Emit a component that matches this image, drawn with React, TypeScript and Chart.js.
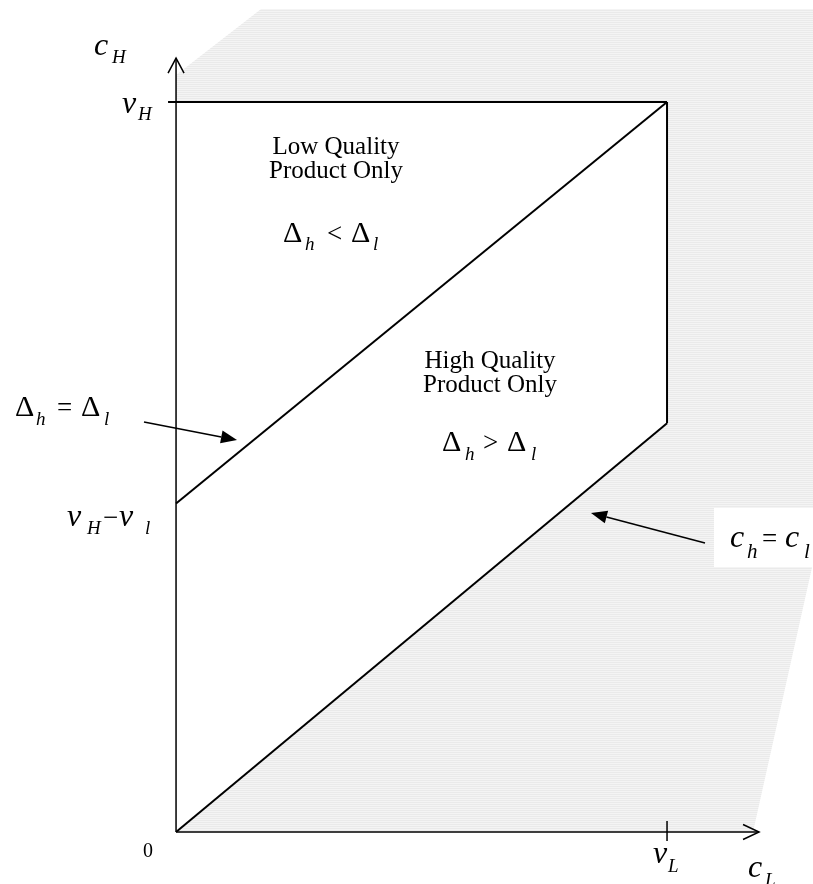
import React, { useEffect, useRef } from 'react';
import { Chart, registerables } from 'chart.js';

Chart.register(...registerables);

// ---------- values (data units: v_H = 1) ----------
const V_H = 1.0;
const V_L = 0.555;
const V_H_MINUS_V_L = 0.45;
const DIAG_END = 0.56; // height of c_h = c_l boundary at c_L = v_L

const topEdgeX = [0, V_L];
const topEdgeY = [V_H, V_H];
const rightEdgeX = [V_L, V_L];
const rightEdgeY = [V_H, DIAG_END];
const upperBoundaryX = [0, V_L]; // Δh = Δl
const upperBoundaryY = [V_H_MINUS_V_L, V_H];
const lowerBoundaryX = [0, V_L]; // c_h = c_l
const lowerBoundaryY = [0, DIAG_END];
const feasibleRegionX = [0, 0, V_L, V_L];
const feasibleRegionY = [0, V_H, V_H, DIAG_END];
const shadedRegionX = [0, 0.0961, 0.72, 0.72, 0.6522, 0];
const shadedRegionY = [1.037, 1.1274, 1.1274, 0.3685, 0, 0];

const AXIS_X_END = 0.659;
const AXIS_Y_END = 1.06;

const X_MIN = -0.199;
const X_MAX = 0.72;
const Y_MIN = -0.0712;
const Y_MAX = 1.1397;

const FONT = '"Liberation Serif", "Times New Roman", serif';

const pts = (xs: number[], ys: number[]) => xs.map((x, i) => ({ x, y: ys[i] }));

type Piece = [string, 'v' | 's' | 'D' | 'o', number];

function drawMath(
  ctx: CanvasRenderingContext2D,
  x: number,
  y: number,
  pieces: Piece[],
  drop = 8,
  vSize = 32,
  sSize = 19
) {
  ctx.save();
  ctx.fillStyle = '#000';
  ctx.textBaseline = 'alphabetic';
  ctx.textAlign = 'left';
  for (const [t, k, off] of pieces) {
    let yy = y;
    if (k === 'v') ctx.font = `italic ${vSize}px ${FONT}`;
    else if (k === 's') {
      ctx.font = `italic ${sSize}px ${FONT}`;
      yy = y + drop;
    } else if (k === 'D') ctx.font = `30px ${FONT}`;
    else ctx.font = `27px ${FONT}`;
    ctx.fillText(t, x + off, yy);
  }
  ctx.restore();
}

function drawArrow(ctx: CanvasRenderingContext2D, x1: number, y1: number, x2: number, y2: number) {
  const a = Math.atan2(y2 - y1, x2 - x1);
  const L = 16;
  const W = 6.5;
  const bx = x2 - L * Math.cos(a);
  const by = y2 - L * Math.sin(a);
  ctx.beginPath();
  ctx.moveTo(x1, y1);
  ctx.lineTo(bx, by);
  ctx.stroke();
  ctx.beginPath();
  ctx.moveTo(x2, y2);
  ctx.lineTo(bx + W * Math.sin(a), by - W * Math.cos(a));
  ctx.lineTo(bx - W * Math.sin(a), by + W * Math.cos(a));
  ctx.closePath();
  ctx.fill();
}

const annotationPlugin = {
  id: 'diagramAnnotations',
  afterDatasetsDraw(chart: any) {
    const ctx: CanvasRenderingContext2D = chart.ctx;
    const xs = chart.scales.x;
    const ys = chart.scales.y;
    const px = (v: number) => xs.getPixelForValue(v);
    const py = (v: number) => ys.getPixelForValue(v);
    const x0 = px(0);
    const y0 = py(0);
    const xEnd = px(AXIS_X_END);
    const yEnd = py(AXIS_Y_END);

    ctx.save();
    // white box behind the c_h = c_l label
    ctx.fillStyle = '#fff';
    ctx.fillRect(714, 508, 100, 59);

    ctx.strokeStyle = '#000';
    ctx.fillStyle = '#000';
    ctx.lineWidth = 1.5;
    ctx.lineCap = 'butt';

    // axes
    ctx.beginPath();
    ctx.moveTo(x0, y0);
    ctx.lineTo(x0, yEnd);
    ctx.moveTo(x0, y0);
    ctx.lineTo(xEnd, y0);
    ctx.stroke();
    // open arrow heads
    ctx.beginPath();
    ctx.moveTo(x0 - 8, yEnd + 15);
    ctx.lineTo(x0, yEnd);
    ctx.lineTo(x0 + 8, yEnd + 15);
    ctx.moveTo(xEnd - 16, y0 - 7.5);
    ctx.lineTo(xEnd, y0);
    ctx.lineTo(xEnd - 16, y0 + 7.5);
    ctx.stroke();

    // ticks
    ctx.lineWidth = 2;
    ctx.beginPath();
    ctx.moveTo(x0 - 8, py(V_H));
    ctx.lineTo(x0, py(V_H));
    ctx.stroke();
    ctx.lineWidth = 1.5;
    ctx.beginPath();
    ctx.moveTo(px(V_L), y0 - 11);
    ctx.lineTo(px(V_L), y0 + 9);
    ctx.stroke();

    // arrows
    ctx.lineWidth = 1.5;
    drawArrow(ctx, 144, 422, 237, 440);
    drawArrow(ctx, 705, 543, 591, 513);

    // region text
    ctx.font = `25px ${FONT}`;
    ctx.textAlign = 'center';
    ctx.textBaseline = 'alphabetic';
    ctx.fillText('Low Quality', 336, 154);
    ctx.fillText('Product Only', 336, 178);
    ctx.fillText('High Quality', 490, 368);
    ctx.fillText('Product Only', 490, 392);

    ctx.font = `20px ${FONT}`;
    ctx.fillText('0', x0 - 28, y0 + 25);
    ctx.restore();

    // math labels
    drawMath(ctx, x0 - 82, yEnd - 3, [['c', 'v', 0], ['H', 's', 18]], 8);
    drawMath(ctx, x0 - 54, py(V_H) + 11, [['v', 'v', 0], ['H', 's', 16]], 7);
    drawMath(ctx, x0 - 109, py(V_H_MINUS_V_L) + 22, [
      ['v', 'v', 0], ['H', 's', 20], ['\u2212', 'o', 36], ['v', 'v', 52], ['l', 's', 78],
    ], 8);
    drawMath(ctx, 15, 416, [
      ['\u0394', 'D', 0], ['h', 's', 21], ['=', 'o', 42], ['\u0394', 'D', 66], ['l', 's', 89],
    ], 9);
    drawMath(ctx, 283, 242, [
      ['\u0394', 'D', 0], ['h', 's', 22], ['<', 'o', 44], ['\u0394', 'D', 68], ['l', 's', 90],
    ], 8);
    drawMath(ctx, 442, 451, [
      ['\u0394', 'D', 0], ['h', 's', 23], ['>', 'o', 41], ['\u0394', 'D', 65], ['l', 's', 89],
    ], 9);
    drawMath(ctx, 730, 547, [
      ['c', 'v', 0], ['h', 's', 17], ['=', 'o', 32], ['c', 'v', 55], ['l', 's', 74],
    ], 11, 32, 21);
    drawMath(ctx, px(V_L) - 14, y0 + 31, [['v', 'v', 0], ['L', 's', 15]], 9);
    drawMath(ctx, xEnd - 11, y0 + 45, [['c', 'v', 0], ['L', 's', 17]], 9);
  },
};

export default function App() {
  const ref = useRef<HTMLCanvasElement>(null);

  useEffect(() => {
    const canvas = ref.current;
    if (!canvas) return;
    const pc = document.createElement('canvas');
    pc.width = 4;
    pc.height = 2;
    const pctx = pc.getContext('2d')!;
    pctx.fillStyle = '#f4f4f4';
    pctx.fillRect(0, 0, 4, 2);
    pctx.fillStyle = '#eaeaea';
    pctx.fillRect(0, 0, 4, 1);
    const pattern = canvas.getContext('2d')!.createPattern(pc, 'repeat')!;

    const lineDs = (xs: number[], ys: number[]) => ({
      data: pts(xs, ys),
      borderColor: '#000',
      borderWidth: 2,
      fill: false,
      pointRadius: 0,
      order: 1,
    });

    const chart = new Chart(canvas, {
      type: 'line',
      data: {
        datasets: [
          {
            data: pts(shadedRegionX, shadedRegionY),
            borderColor: 'rgba(0,0,0,0)',
            borderWidth: 1,
            backgroundColor: pattern as any,
            fill: 'shape',
            pointRadius: 0,
            order: 3,
          },
          {
            data: pts(feasibleRegionX, feasibleRegionY),
            borderColor: 'rgba(0,0,0,0)',
            borderWidth: 1,
            backgroundColor: '#ffffff',
            fill: 'shape',
            pointRadius: 0,
            order: 2,
          },
          lineDs(topEdgeX, topEdgeY),
          lineDs(rightEdgeX, rightEdgeY),
          lineDs(upperBoundaryX, upperBoundaryY),
          lineDs(lowerBoundaryX, lowerBoundaryY),
        ] as any,
      },
      options: {
        responsive: false,
        animation: false,
        devicePixelRatio: 1,
        events: [],
        layout: { padding: 0, autoPadding: false },
        plugins: {
          legend: { display: false },
          tooltip: { enabled: false },
          title: { display: false },
        },
        scales: {
          x: { type: 'linear', min: X_MIN, max: X_MAX, display: false },
          y: { type: 'linear', min: Y_MIN, max: Y_MAX, display: false },
        },
      } as any,
      plugins: [annotationPlugin],
    });
    return () => chart.destroy();
  }, []);

  return (
    <div style={{ position: 'fixed', left: 0, top: 0, width: 813, height: 884, background: '#fff' }}>
      <canvas ref={ref} width={813} height={884} style={{ display: 'block' }} />
    </div>
  );
}
